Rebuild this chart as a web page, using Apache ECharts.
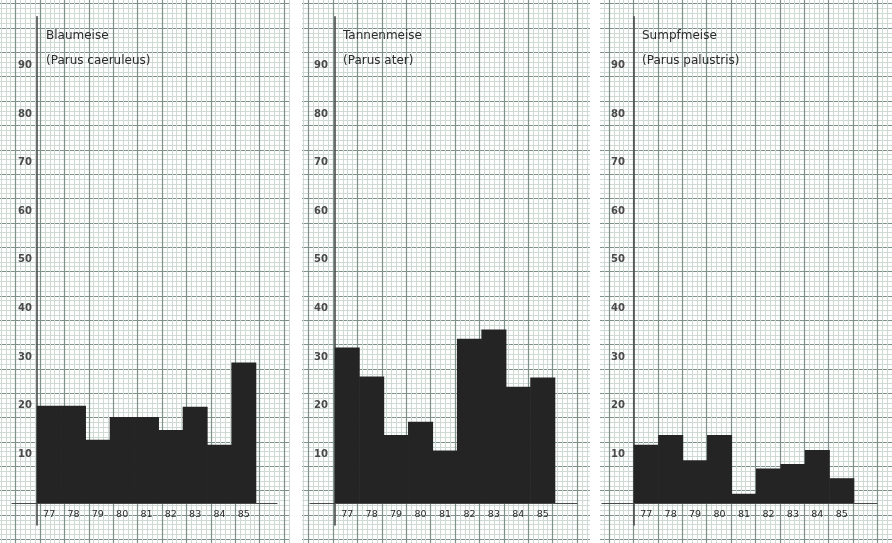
<!DOCTYPE html>
<html><head><meta charset="utf-8">
<script src="https://cdn.jsdelivr.net/npm/echarts@6/dist/echarts.min.js"></script>
<style>
html,body{margin:0;padding:0;background:#fff;}
#wrap{position:relative;width:892px;height:543px;overflow:hidden;background:#fff;}
.panel{position:absolute;top:0;height:543px;}
</style></head><body>
<div id="wrap">
<div id="p1" class="panel" style="left:0;width:290px"></div>
<div id="p2" class="panel" style="left:302px;width:288px"></div>
<div id="p3" class="panel" style="left:600px;width:292px"></div>
</div>
<script>
// ---- data ----
const years = [77, 78, 79, 80, 81, 82, 83, 84, 85];
const yTickLabels = [10, 20, 30, 40, 50, 60, 70, 80, 90];
const blaumeise   = [20, 20, 13, 17.7, 17.7, 15, 19.8, 12, 28.9];
const tannenmeise = [32, 26, 14, 16.7, 10.8, 33.8, 35.7, 23.9, 25.8];
const sumpfmeise  = [12, 14, 8.8, 14, 1.9, 7.1, 8, 10.9, 5.1];
const speciesNames = ["Blaumeise", "Tannenmeise", "Sumpfmeise"];
const latinNames = ["(Parus caeruleus)", "(Parus ater)", "(Parus palustris)"];
const seriesValues = [blaumeise, tannenmeise, sumpfmeise];

// ---- layout / style ----
const ZERO_Y = 503, PX_PER_UNIT = 4.8625, YMIN = -4.5, YMAX = 100;
const CELL_X = 24.4, CELL_Y = 24.35, GRID_Y0 = 3.65;
const layouts = [
  {el: 'p1', w: 290, gx: 15.6, axisX: 37, barL: 37, barR: 256, lineL: 12, lineR: 277, titleX: 46, labelMargin: 5},
  {el: 'p2', w: 288, gx: 6.6,  axisX: 33, barL: 33, barR: 253, lineL: 8,  lineR: 275, titleX: 41, labelMargin: 7},
  {el: 'p3', w: 292, gx: 9,    axisX: 34, barL: 34, barR: 254, lineL: 2,  lineR: 277, titleX: 42, labelMargin: 9}
];
const FONT = 'DejaVu Sans';
const TEXT = '#2c2c2c';

layouts.forEach(function (L, k) {
  const chart = echarts.init(document.getElementById(L.el), null, {renderer: 'canvas'});
  const paperLeft = L.gx - CELL_X;
  const nx = Math.ceil((L.w - paperLeft) / CELL_X) + 1;
  const paperTop = GRID_Y0 - CELL_Y;
  const ny = Math.ceil((543 - paperTop) / CELL_Y) + 1;
  const band = (L.barR - L.barL) / years.length;
  const xmin = years[0] - (L.barL + band / 2 - L.lineL) / band;
  const xmax = xmin + (L.lineR - L.lineL) / band;
  const paperAxis = function (n, isX) {
    return {
      type: 'value', min: 0, max: n, interval: 1, gridIndex: 0,
      axisLine: {show: false}, axisTick: {show: false}, axisLabel: {show: false},
      splitLine: {show: true, lineStyle: {color: '#7f928a', width: 1.2}},
      minorTick: {show: false, splitNumber: 5},
      minorSplitLine: {show: true, lineStyle: {color: '#cfdad5', width: 1}},
      inverse: !isX
    };
  };
  chart.setOption({
    animation: false,
    backgroundColor: '#fdfefd',
    title: {
      text: speciesNames[k], subtext: latinNames[k],
      left: L.titleX, top: 30, padding: 0, itemGap: 13,
      textStyle: {fontFamily: FONT, fontSize: 12, fontWeight: 'normal', color: TEXT},
      subtextStyle: {fontFamily: FONT, fontSize: 12, color: TEXT}
    },
    grid: [
      {left: paperLeft, top: paperTop, width: nx * CELL_X, height: ny * CELL_Y,
       outerBoundsMode: 'none', containLabel: false},
      {left: L.lineL, width: L.lineR - L.lineL,
       top: ZERO_Y - YMAX * PX_PER_UNIT, height: (YMAX - YMIN) * PX_PER_UNIT,
       outerBoundsMode: 'none', containLabel: false}
    ],
    xAxis: [
      paperAxis(nx, true),
      {
        type: 'value', gridIndex: 1, min: xmin, max: xmax,
        position: 'bottom', offset: YMIN * PX_PER_UNIT,
        axisLine: {show: true, onZero: false, lineStyle: {color: '#4a4a4a', width: 1.2}},
        axisTick: {show: false},
        splitLine: {show: false},
        axisLabel: {
          customValues: years, margin: 7,
          fontFamily: FONT, fontSize: 9.5, color: TEXT,
          formatter: function (v) { return String(v); }
        }
      }
    ],
    yAxis: [
      paperAxis(ny, false),
      {
        type: 'value', gridIndex: 1, min: YMIN, max: YMAX,
        offset: -(L.axisX - L.lineL),
        axisLine: {show: true, onZero: false, lineStyle: {color: '#4a4a4a', width: 1.6}},
        axisTick: {show: false},
        splitLine: {show: false},
        axisLabel: {
          customValues: yTickLabels, margin: L.labelMargin,
          fontFamily: FONT, fontSize: 10, fontWeight: 'bold', color: '#4a4a4a',
          padding: [0, 0, 8, 0],
          formatter: function (v) { return String(v); }
        }
      }
    ],
    series: [{
      type: 'bar', xAxisIndex: 1, yAxisIndex: 1,
      data: years.map(function (y, i) { return [y, seriesValues[k][i]]; }),
      barWidth: band + 0.6,
      itemStyle: {color: '#242424'},
      silent: true
    }]
  });
});
</script>
</body></html>
